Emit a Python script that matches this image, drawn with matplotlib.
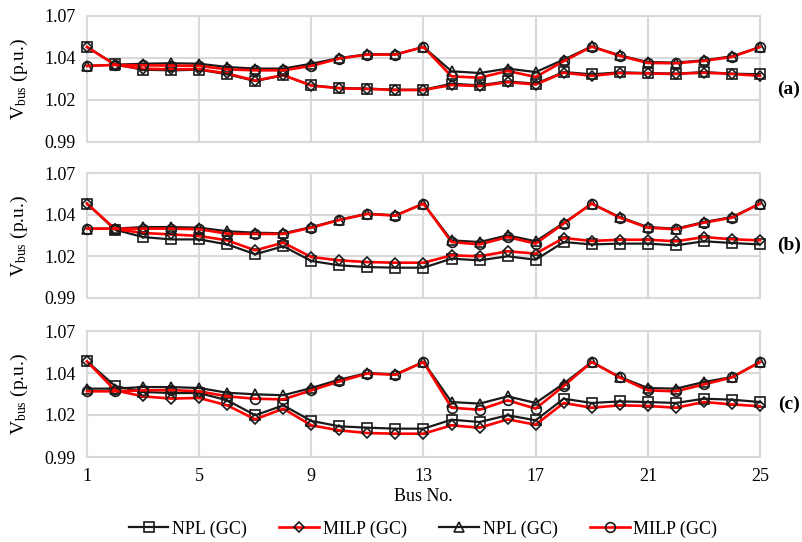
import numpy as np
import matplotlib
matplotlib.use("Agg")
import matplotlib.pyplot as plt
from matplotlib.lines import Line2D

plt.rcParams['font.family'] = ['Liberation Serif', 'DejaVu Serif']
plt.rcParams['mathtext.fontset'] = 'custom'
plt.rcParams['mathtext.rm'] = 'Liberation Serif'
plt.rcParams['mathtext.it'] = 'Liberation Serif:italic'

buses = list(range(1, 26))
xticks = [1, 5, 9, 13, 17, 21, 25]
yticks = [0.99, 1.07 - 2 * 0.08 / 3, 1.07 - 0.08 / 3, 1.07]
panel_labels = ['(a)', '(b)', '(c)']
legend_labels = ['NPL (GC)', 'MILP (GC)', 'NPL (GC)', 'MILP (GC)']

# Panel (a)
npl_sq_a = [1.0503, 1.0393, 1.0359, 1.0355, 1.0359, 1.0330, 1.0287, 1.0323, 1.0260, 1.0243, 1.0239, 1.0232, 1.0232,
            1.0270, 1.0260, 1.0285, 1.0270, 1.0344, 1.0330, 1.0342, 1.0338, 1.0334, 1.0344, 1.0334, 1.0330]
milp_di_a = [1.0503, 1.0390, 1.0365, 1.0362, 1.0362, 1.0335, 1.0290, 1.0325, 1.0258, 1.0241, 1.0237, 1.0230, 1.0230,
             1.0262, 1.0255, 1.0280, 1.0265, 1.0340, 1.0320, 1.0338, 1.0335, 1.0332, 1.0340, 1.0332, 1.0320]
npl_tr_a = [1.0383, 1.0391, 1.0397, 1.0400, 1.0397, 1.0376, 1.0366, 1.0366, 1.0397, 1.0433, 1.0457, 1.0457, 1.0503,
            1.0349, 1.0338, 1.0366, 1.0344, 1.0423, 1.0507, 1.0450, 1.0408, 1.0404, 1.0419, 1.0444, 1.0503]
milp_ci_a = [1.0383, 1.0389, 1.0387, 1.0385, 1.0383, 1.0361, 1.0355, 1.0355, 1.0383, 1.0430, 1.0455, 1.0455, 1.0503,
             1.0317, 1.0308, 1.0351, 1.0313, 1.0413, 1.0505, 1.0447, 1.0402, 1.0400, 1.0415, 1.0440, 1.0503]

# Panel (b)
npl_sq_b = [1.0504, 1.0337, 1.0290, 1.0275, 1.0275, 1.0243, 1.0180, 1.0231, 1.0137, 1.0109, 1.0098, 1.0094, 1.0094,
            1.0152, 1.0141, 1.0167, 1.0145, 1.0258, 1.0243, 1.0248, 1.0248, 1.0237, 1.0263, 1.0252, 1.0243]
milp_di_b = [1.0504, 1.0342, 1.0316, 1.0307, 1.0297, 1.0269, 1.0205, 1.0254, 1.0162, 1.0141, 1.0130, 1.0126, 1.0126,
             1.0173, 1.0167, 1.0199, 1.0184, 1.0284, 1.0265, 1.0273, 1.0273, 1.0263, 1.0290, 1.0276, 1.0269]
npl_tr_b = [1.0344, 1.0344, 1.0354, 1.0354, 1.0350, 1.0327, 1.0318, 1.0314, 1.0354, 1.0401, 1.0440, 1.0429, 1.0504,
            1.0269, 1.0258, 1.0301, 1.0263, 1.0380, 1.0504, 1.0418, 1.0354, 1.0344, 1.0386, 1.0418, 1.0504]
milp_ci_b = [1.0344, 1.0344, 1.0344, 1.0344, 1.0340, 1.0312, 1.0310, 1.0310, 1.0350, 1.0399, 1.0438, 1.0427, 1.0504,
             1.0258, 1.0243, 1.0290, 1.0248, 1.0376, 1.0504, 1.0414, 1.0350, 1.0340, 1.0382, 1.0414, 1.0504]

# Panel (c)
npl_sq_c = [1.0507, 1.0351, 1.0313, 1.0306, 1.0306, 1.0260, 1.0165, 1.0228, 1.0129, 1.0095, 1.0086, 1.0080, 1.0080,
            1.0137, 1.0122, 1.0165, 1.0133, 1.0270, 1.0243, 1.0253, 1.0249, 1.0243, 1.0270, 1.0264, 1.0249]
milp_di_c = [1.0507, 1.0323, 1.0285, 1.0271, 1.0275, 1.0228, 1.0139, 1.0207, 1.0101, 1.0069, 1.0052, 1.0048, 1.0048,
             1.0101, 1.0086, 1.0139, 1.0105, 1.0243, 1.0213, 1.0228, 1.0224, 1.0213, 1.0249, 1.0234, 1.0222]
npl_tr_c = [1.0334, 1.0334, 1.0344, 1.0344, 1.0338, 1.0308, 1.0298, 1.0292, 1.0338, 1.0391, 1.0433, 1.0425, 1.0503,
            1.0249, 1.0239, 1.0285, 1.0243, 1.0366, 1.0503, 1.0408, 1.0338, 1.0334, 1.0376, 1.0408, 1.0503]
milp_ci_c = [1.0317, 1.0317, 1.0323, 1.0325, 1.0317, 1.0285, 1.0270, 1.0266, 1.0323, 1.0380, 1.0430, 1.0422, 1.0503,
             1.0213, 1.0200, 1.0260, 1.0207, 1.0351, 1.0503, 1.0405, 1.0323, 1.0317, 1.0361, 1.0405, 1.0503]

panels = [
    (npl_sq_a, milp_di_a, npl_tr_a, milp_ci_a),
    (npl_sq_b, milp_di_b, npl_tr_b, milp_ci_b),
    (npl_sq_c, milp_di_c, npl_tr_c, milp_ci_c),
]

BLACK = '#1a1a1a'
RED = '#ff0000'
GRID = '#d9d9d9'
styles = [
    dict(color=BLACK, lw=1.6, marker='s', zorder=3),
    dict(color=RED, lw=1.9, marker='D', zorder=4, ms_scale=0.8),
    dict(color=BLACK, lw=1.6, marker='^', zorder=3),
    dict(color=RED, lw=1.9, marker='o', zorder=4),
]

W, H = 803, 542
fig = plt.figure(figsize=(W / 100, H / 100), dpi=100)
left, right = 87 / W, 760 / W
boxes = [(16, 142), (173, 298), (331, 457)]

for i, (data, (ytop, ybot)) in enumerate(zip(panels, boxes)):
    ax = fig.add_axes([left, 1 - ybot / H, right - left, (ybot - ytop) / H])
    for series, st in zip(data, styles):
        ms = 7 * st.get('ms_scale', 1.0)
        ax.plot(buses, series, color=st['color'], lw=st['lw'], marker=st['marker'],
                ms=ms, mfc='none', mec=BLACK, mew=1.2, zorder=st['zorder'], clip_on=False)
    ax.set_xlim(1, 25)
    ax.set_ylim(0.99, 1.07)
    ax.set_xticks(xticks)
    ax.set_yticks(yticks)
    ax.set_yticklabels(['%.2f' % v for v in yticks], fontsize=13)
    if i == 2:
        ax.set_xticklabels([str(v) for v in xticks], fontsize=13)
        ax.set_xlabel('Bus No.', fontsize=13, labelpad=2)
    else:
        ax.set_xticklabels([])
    ax.tick_params(length=0, pad=8)
    ax.grid(True, color=GRID, lw=1.5, zorder=0)
    ax.set_axisbelow(True)
    for sp in ax.spines.values():
        sp.set_color(GRID)
        sp.set_linewidth(1.5)
    ax.set_ylabel(r'V$_{\mathrm{bus}}$ (p.u.)', fontsize=14, labelpad=6)
    ax.yaxis.set_label_coords(-0.084, 0.5)
    ax.text(1.043, 0.42, panel_labels[i], transform=ax.transAxes, fontsize=14,
            fontweight='bold', ha='center', va='center')

handles = []
for st in styles:
    ms = 7 * st.get('ms_scale', 1.0)
    handles.append(Line2D([], [], color=st['color'], lw=st['lw'], marker=st['marker'],
                          ms=ms, mfc='none', mec=BLACK, mew=1.2))
fig.legend(handles, legend_labels, loc='center', bbox_to_anchor=(423 / W, 1 - 529 / H),
           ncol=4, frameon=False, fontsize=13, handlelength=2.2, handletextpad=0.2,
           columnspacing=1.8)

fig.savefig('out.png', dpi=100)
